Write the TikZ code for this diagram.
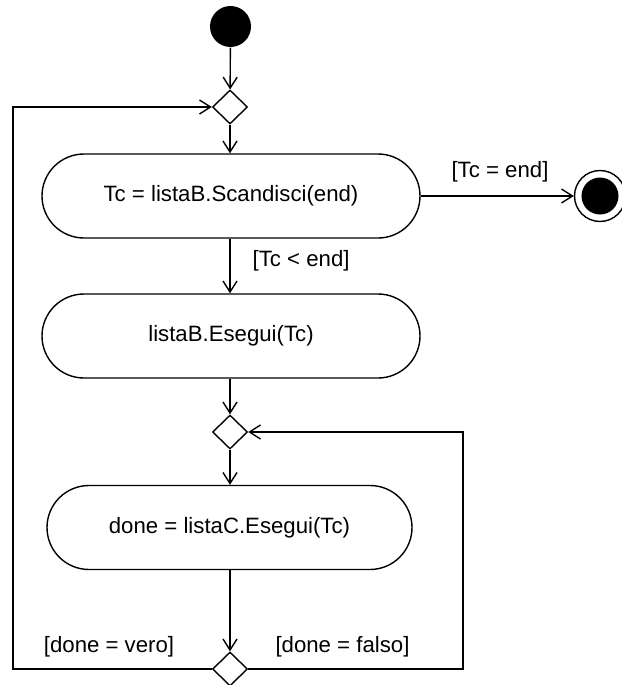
\documentclass[tikz,border=0pt]{standalone}
\usepackage{fontspec}
\setmainfont{Liberation Sans}
\usetikzlibrary{arrows.meta,shapes.geometric}
\begin{document}
\begin{tikzpicture}[x=1pt,y=-1pt,
  font=\fontsize{22.2}{25}\selectfont,
  line width=1.4pt,
  flow/.style={-{Straight Barb[length=11pt,width=14pt,line width=1.4pt]}},
  action/.style={draw, rounded corners=42pt, minimum height=84pt, inner sep=0pt},
  choice/.style={draw, diamond, minimum width=35pt, minimum height=34pt, inner sep=0pt, fill=white},
  startdot/.style={circle, fill=black, minimum size=41pt, inner sep=0pt},
  guard/.style={inner sep=0pt}]
\useasboundingbox (0,0) rectangle (621,685);

% start and end markers
\node[startdot] (init) at (230.5,26.5) {};
\node[draw, circle, minimum size=51pt, inner sep=0pt] (finalouter) at (600,196) {};
\node[circle, fill=black, minimum size=37pt, inner sep=0pt] (final) at (600,196) {};

% decision / merge nodes
\node[choice] (m1) at (230,107) {};
\node[choice] (m2) at (230,432) {};
\node[choice] (d3) at (230,669) {};

% actions
\node[action, minimum width=378pt] (scan) at (231,196) {Tc = listaB.Scandisci(end)};
\node[action, minimum width=378pt] (exec) at (231,336) {listaB.Esegui(Tc)};
\node[action, minimum width=365pt] (execc) at (229.5,527.5) {done = listaC.Esegui(Tc)};

% loop corners
\coordinate (lb) at (13,669);
\coordinate (lt) at (13,107);
\coordinate (rb) at (463,669);
\coordinate (rt) at (463,432);

% main flow
\draw[flow] (init) -- (m1);
\draw[flow] (m1) -- (scan.north -| m1);
\draw[flow] (scan.east |- finalouter) -- (finalouter);
\draw[flow] (scan.south -| m1) -- (exec.north -| m1);
\draw[flow] (exec.south -| m2) -- (m2);
\draw[flow] (m2) -- (execc.north -| m2);
\draw[flow] (execc.south -| d3) -- (d3);

% loops back
\draw[flow] (d3.west) -- (lb) -- (lt) -- (m1.west);
\draw[flow] (d3.east) -- (rb) -- (rt) -- (m2.east);

% guards
\node[guard] (g1) at (500,172) {[Tc = end]};
\node[guard, anchor=west] (g2) at (252,261) {[Tc < end]};
\node[guard] (g3) at (109,647) {[done = vero]};
\node[guard] (g4) at (342.5,647) {[done = falso]};
\end{tikzpicture}
\end{document}
